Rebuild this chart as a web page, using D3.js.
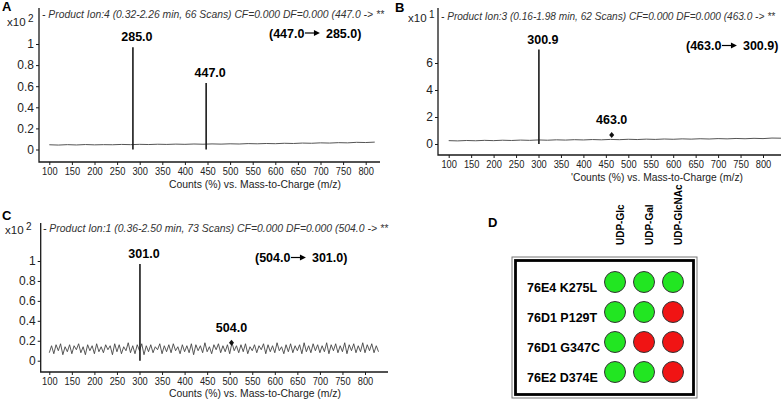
<!DOCTYPE html>
<html>
<head>
<meta charset="utf-8">
<script src="https://cdn.jsdelivr.net/npm/d3@7"></script>
<style>
  body { margin: 0; background: #fff; }
  svg text { font-family: "Liberation Sans", Arial, sans-serif; }
</style>
</head>
<body>
<svg id="vis" width="781" height="400"></svg>
<script>
// ---------- data ----------
const mzTicks = [100, 150, 200, 250, 300, 350, 400, 450, 500, 550, 600, 650, 700, 750, 800];
const yTicksA = [0, 0.2, 0.4, 0.6, 0.8, 1];
const yTicksB = [0, 2, 4, 6];
const yTicksC = [0, 0.2, 0.4, 0.6, 0.8, 1];

// product-ion peaks (m/z, height in axis units)
const peakMzA = [285.0, 447.0];
const peakHA = [0.97, 0.63];
const peakMzB = [300.9];
const peakHB = [7.0];
const peakMzC = [301.0];
const peakHC = [0.97];

// precursor markers (no real peak)
const markB = [463.0, 0.67];
const markC = [504.0, 0.18];

// transitions
const transA = ["447.0", "285.0"];
const transB = ["463.0", "300.9"];
const transC = ["504.0", "301.0"];

// baseline traces, read every 20 m/z (A: 100-820, B: 100-840)
const baseA = [0.045, 0.042, 0.046, 0.043, 0.047, 0.044, 0.046, 0.045, 0.048, 0.046,
               0.049, 0.047, 0.050, 0.048, 0.051, 0.049, 0.052, 0.050, 0.053, 0.051,
               0.054, 0.052, 0.056, 0.054, 0.057, 0.055, 0.059, 0.057, 0.061, 0.059,
               0.063, 0.061, 0.065, 0.063, 0.068, 0.066, 0.070];
const baseB = [0.25, 0.23, 0.26, 0.24, 0.27, 0.25, 0.28, 0.26, 0.29, 0.27,
               0.30, 0.28, 0.31, 0.29, 0.32, 0.30, 0.33, 0.31, 0.34, 0.32,
               0.35, 0.33, 0.36, 0.34, 0.37, 0.35, 0.38, 0.36, 0.39, 0.37,
               0.40, 0.38, 0.41, 0.39, 0.42, 0.40, 0.44, 0.43];
// noisy trace in C, read every 5 m/z (100-830)
const baseC = [0.08, 0.15, 0.07, 0.16, 0.10, 0.17, 0.06, 0.14, 0.09, 0.16,
               0.07, 0.15, 0.11, 0.17, 0.08, 0.14, 0.06, 0.16, 0.10, 0.15,
               0.07, 0.17, 0.09, 0.14, 0.08, 0.16, 0.11, 0.15, 0.06, 0.17,
               0.09, 0.16, 0.07, 0.14, 0.10, 0.18, 0.08, 0.15, 0.07, 0.16,
               0.10, 0.17, 0.06, 0.15, 0.09, 0.16, 0.08, 0.14, 0.11, 0.17,
               0.07, 0.15, 0.09, 0.16, 0.08, 0.17, 0.10, 0.14, 0.07, 0.16,
               0.09, 0.15, 0.08, 0.17, 0.06, 0.16, 0.10, 0.15, 0.08, 0.18,
               0.09, 0.14, 0.07, 0.16, 0.11, 0.17, 0.08, 0.15, 0.09, 0.16,
               0.07, 0.18, 0.10, 0.15, 0.08, 0.16, 0.09, 0.17, 0.07, 0.14,
               0.10, 0.16, 0.08, 0.15, 0.11, 0.17, 0.07, 0.16, 0.09, 0.15,
               0.08, 0.18, 0.10, 0.14, 0.07, 0.16, 0.09, 0.17, 0.08, 0.15,
               0.10, 0.16, 0.07, 0.18, 0.09, 0.15, 0.08, 0.17, 0.10, 0.16,
               0.08, 0.15, 0.09, 0.18, 0.07, 0.16, 0.10, 0.17, 0.08, 0.15,
               0.09, 0.18, 0.07, 0.16, 0.10, 0.17, 0.08, 0.15, 0.09, 0.18,
               0.08, 0.16, 0.10, 0.17, 0.08, 0.15, 0.09];

// panel D
const substrates = ["UDP-Glc", "UDP-Gal", "UDP-GlcNAc"];
const mutants = ["76E4 K275L", "76D1 P129T", "76D1 G347C", "76E2 D374E"];
const activity = [
  [1, 1, 1],
  [1, 1, 0],
  [1, 0, 0],
  [1, 1, 0]
];

// ---------- drawing ----------
const svg = d3.select("#vis");
const ink = "#1a1a1a";

function boldText(g, x, y, str, size, anchor) {
  return g.append("text")
    .attr("x", x).attr("y", y)
    .attr("font-size", size || 12.5)
    .attr("font-weight", "bold")
    .attr("text-anchor", anchor || "start")
    .attr("fill", "#000")
    .text(str);
}

// "(447.0 --> 285.0)"
function transition(g, x, y, pair) {
  const t1 = boldText(g, x, y, "(" + pair[0]);
  const ax0 = x + t1.node().getComputedTextLength() + 0.5;
  const tip = ax0 + 15;
  g.append("line")
    .attr("x1", ax0).attr("x2", tip - 4)
    .attr("y1", y - 4.5).attr("y2", y - 4.5)
    .attr("stroke", "#000").attr("stroke-width", 1.2);
  g.append("path")
    .attr("d", `M${tip - 6},${y - 7.5}L${tip},${y - 4.5}L${tip - 6},${y - 1.5}Z`)
    .attr("fill", "#000");
  boldText(g, tip + 6, y, pair[1] + ")");
}

function drawPanel(p) {
  const g = svg.append("g");
  const x = d3.scaleLinear().domain([100, 800]).range(p.xr);
  const y = d3.scaleLinear().domain(p.yd).range(p.yr);

  // panel letter
  boldText(g, p.letter[1], p.letter[2], p.letter[0], 13);

  // exponent label
  g.append("text").attr("x", p.exp[0]).attr("y", p.exp[1])
    .attr("font-size", 11.5).attr("fill", "#222").text("x10");
  g.append("text").attr("x", p.exp[0] + 21).attr("y", p.exp[1] - 4)
    .attr("font-size", 10).attr("fill", "#222").text(p.expVal);

  // title line
  g.append("text").attr("x", p.title[0]).attr("y", p.title[1])
    .attr("font-size", 11).attr("font-style", "italic").attr("fill", "#333")
    .attr("textLength", p.title[2]).attr("lengthAdjust", "spacingAndGlyphs")
    .text(p.titleText);

  // axis frame
  g.append("path")
    .attr("d", `M${p.left},${p.top}V${p.bottom}H${p.right}`)
    .attr("fill", "none").attr("stroke", ink).attr("stroke-width", 1.3);

  // x axis ticks/labels
  const gx = g.append("g").attr("transform", `translate(0,${p.bottom})`)
    .call(d3.axisBottom(x).tickValues(mzTicks).tickSize(3).tickPadding(1.5));
  gx.select(".domain").remove();
  gx.selectAll("line").attr("stroke", ink);
  gx.selectAll("text")
    .attr("font-family", null).attr("font-size", 11.5).attr("fill", "#222")
    .attr("textLength", 15.5).attr("lengthAdjust", "spacingAndGlyphs");

  // y axis ticks/labels
  const gy = g.append("g").attr("transform", `translate(${p.left},0)`)
    .call(d3.axisLeft(y).tickValues(p.yTicks).tickSize(3).tickPadding(2).tickFormat(d => String(d)));
  gy.select(".domain").remove();
  gy.selectAll("line").attr("stroke", ink);
  gy.selectAll("text").attr("font-family", null).attr("font-size", 12).attr("fill", "#222");

  // axis title
  g.append("text").attr("x", p.xTitle[0]).attr("y", p.xTitle[1])
    .attr("font-size", 11).attr("fill", "#222").attr("text-anchor", "middle")
    .attr("textLength", 172).attr("lengthAdjust", "spacingAndGlyphs")
    .text(p.xTitleText);

  // baseline trace
  const line = d3.line().x(d => x(d[0])).y(d => y(d[1]));
  g.append("path")
    .datum(p.base.map((v, i) => [p.baseStart + i * p.baseStep, v]))
    .attr("d", line)
    .attr("fill", "none").attr("stroke", p.baseColor).attr("stroke-width", p.baseWidth);

  // peaks
  p.peakMz.forEach((mz, i) => {
    g.append("line")
      .attr("x1", x(mz)).attr("x2", x(mz))
      .attr("y1", y(0)).attr("y2", y(p.peakH[i]))
      .attr("stroke", ink).attr("stroke-width", 1.6);
    boldText(g, x(mz) + 4, y(p.peakH[i]) - 6, mz.toFixed(1), 12.5, "middle");
  });

  // precursor marker
  if (p.mark) {
    const mx = x(p.mark[0]), my = y(p.mark[1]);
    g.append("path")
      .attr("d", `M${mx},${my - 3}L${mx + 2.5},${my}L${mx},${my + 3}L${mx - 2.5},${my}Z`)
      .attr("fill", "#111");
    boldText(g, mx, my - 11, p.mark[0].toFixed(1), 12.5, "middle");
  }

  transition(g, p.trans[0], p.trans[1], p.transPair);
}

const xTitleText = "Counts (%) vs. Mass-to-Charge (m/z)";

drawPanel({
  letter: ["A", 2, 11], exp: [7, 26], expVal: "2",
  title: [42, 18, 342], titleText: "- Product Ion:4 (0.32-2.26 min, 66 Scans) CF=0.000 DF=0.000 (447.0 -> **",
  left: 39, right: 380, top: 8, bottom: 162,
  xr: [49.3, 365.7], yd: [0, 1], yr: [149.5, 44], yTicks: yTicksA,
  xTitle: [255, 188], xTitleText: xTitleText,
  base: baseA, baseStart: 100, baseStep: 20, baseColor: "#555", baseWidth: 1,
  peakMz: peakMzA, peakH: peakHA,
  trans: [269, 37.5], transPair: transA
});

drawPanel({
  letter: ["B", 395, 12], exp: [408, 21.5], expVal: "1",
  title: [441, 20, 334], titleText: "- Product Ion:3 (0.16-1.98 min, 62 Scans) CF=0.000 DF=0.000 (463.0 -> **",
  left: 438, right: 781, top: 8, bottom: 155,
  xr: [448.7, 763], yd: [0, 6], yr: [144, 63], yTicks: yTicksB,
  xTitle: [657, 181], xTitleText: "'" + xTitleText,
  base: baseB, baseStart: 100, baseStep: 20, baseColor: "#555", baseWidth: 1,
  peakMz: peakMzB, peakH: peakHB, mark: markB,
  trans: [686, 50], transPair: transB
});

drawPanel({
  letter: ["C", 2, 220], exp: [5, 234], expVal: "2",
  title: [43, 232, 345], titleText: "- Product Ion:1 (0.36-2.50 min, 73 Scans) CF=0.000 DF=0.000 (504.0 -> **",
  left: 40.7, right: 388, top: 223, bottom: 372,
  xr: [49.3, 365], yd: [0, 1], yr: [360.7, 261], yTicks: yTicksC,
  xTitle: [255, 396.5], xTitleText: xTitleText,
  base: baseC, baseStart: 100, baseStep: 5, baseColor: "#444", baseWidth: 0.9,
  peakMz: peakMzC, peakH: peakHC, mark: markC,
  trans: [255, 262], transPair: transC
});

// ---------- panel D ----------
const gD = svg.append("g");
boldText(gD, 488, 227, "D", 13);

const xD = d3.scalePoint().domain(substrates).range([615, 673]);
const yD = d3.scalePoint().domain(mutants).range([282, 372]);

// double frame
gD.append("rect").attr("x", 512).attr("y", 257).attr("width", 185).attr("height", 141)
  .attr("fill", "#fff").attr("stroke", "#777").attr("stroke-width", 1);
gD.append("rect").attr("x", 515.5).attr("y", 260.5).attr("width", 178).attr("height", 134)
  .attr("fill", "none").attr("stroke", "#000").attr("stroke-width", 2.8);

substrates.forEach(s => {
  gD.append("text")
    .attr("transform", `translate(${xD(s) + 9},245) rotate(-90)`)
    .attr("font-size", 10).attr("font-weight", "bold").attr("fill", "#000")
    .text(s);
});

mutants.forEach((m, i) => {
  boldText(gD, 527, yD(m) + 9.5, m, 12.5);
  substrates.forEach((s, j) => {
    gD.append("circle")
      .attr("cx", xD(s)).attr("cy", yD(m)).attr("r", 10.5)
      .attr("fill", activity[i][j] ? "#22e622" : "#f01414")
      .attr("stroke", "#333").attr("stroke-width", 1);
  });
});
</script>
</body>
</html>
